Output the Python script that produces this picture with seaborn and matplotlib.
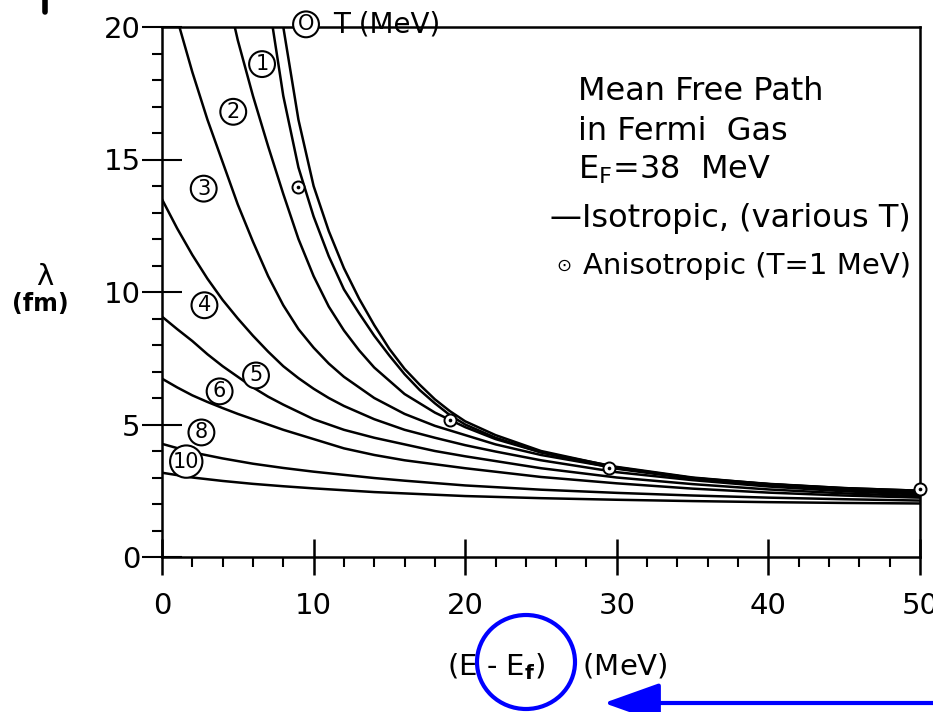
import numpy as np
import pandas as pd
import seaborn as sns
import matplotlib
matplotlib.use("Agg")
import matplotlib.pyplot as plt
from matplotlib.patches import Ellipse
from matplotlib.ticker import MultipleLocator

# ---- data: mean free path lambda (fm) vs excitation energy E - E_F (MeV) ----
temps = [0, 1, 2, 3, 4, 5, 6, 8, 10]

e_T0 = [8.0, 9, 10, 11, 12, 13, 14, 15, 16, 17, 18, 19, 20, 22, 25, 30, 35, 40, 45, 50]
lam_T0 = [20.0, 16.5, 14.0, 12.3, 10.9, 9.75, 8.75, 7.85, 7.1, 6.5, 5.95, 5.5, 5.12, 4.6, 4.0, 3.38, 2.98, 2.76, 2.6, 2.5]

e_T1 = [7.3, 8, 9, 10, 11, 12, 13, 14, 15, 16, 17, 18, 19, 20, 22, 25, 30, 35, 40, 45, 50]
lam_T1 = [20.0, 17.4, 14.7, 12.85, 11.35, 10.1, 9.2, 8.35, 7.6, 6.9, 6.3, 5.8, 5.35, 5.0, 4.5, 3.95, 3.33, 2.95, 2.75, 2.6, 2.5]

e_T2 = [4.8, 5, 6, 7, 8, 9, 10, 11, 12, 13, 14, 16, 18, 20, 22, 25, 30, 35, 40, 45, 50]
lam_T2 = [20.0, 19.5, 17.4, 15.5, 13.7, 12.0, 10.6, 9.45, 8.55, 7.8, 7.15, 6.15, 5.45, 4.9, 4.45, 3.95, 3.4, 3.0, 2.75, 2.58, 2.46]

e_T3 = [1.15, 2, 3, 4, 5, 6, 7, 8, 9, 10, 11, 12, 14, 16, 18, 20, 22, 25, 30, 35, 40, 45, 50]
lam_T3 = [20.0, 18.3, 16.5, 14.9, 13.3, 11.9, 10.6, 9.5, 8.6, 7.9, 7.3, 6.8, 6.0, 5.4, 4.95, 4.6, 4.25, 3.85, 3.35, 2.98, 2.72, 2.54, 2.42]

e_T4 = [0, 1, 2, 3, 4, 5, 6, 7, 8, 9, 10, 11, 12, 14, 16, 18, 20, 22, 25, 30, 35, 40, 45, 50]
lam_T4 = [13.5, 12.4, 11.4, 10.5, 9.7, 9.0, 8.35, 7.75, 7.2, 6.75, 6.35, 6.0, 5.7, 5.2, 4.8, 4.5, 4.22, 3.98, 3.65, 3.2, 2.9, 2.66, 2.48, 2.36]

e_T5 = [0, 1, 2, 3, 4, 5, 6, 7, 8, 10, 12, 14, 16, 18, 20, 25, 30, 35, 40, 45, 50]
lam_T5 = [9.07, 8.6, 8.15, 7.65, 7.2, 6.8, 6.4, 6.05, 5.75, 5.2, 4.8, 4.5, 4.25, 4.0, 3.8, 3.35, 3.0, 2.75, 2.55, 2.4, 2.3]

e_T6 = [0, 1, 2, 3, 4, 5, 6, 8, 10, 12, 14, 16, 18, 20, 25, 30, 35, 40, 45, 50]
lam_T6 = [6.73, 6.4, 6.1, 5.85, 5.62, 5.4, 5.2, 4.8, 4.45, 4.1, 3.85, 3.65, 3.5, 3.35, 3.02, 2.78, 2.58, 2.43, 2.32, 2.24]

e_T8 = [0, 2, 4, 6, 8, 10, 12, 14, 16, 20, 25, 30, 35, 40, 45, 50]
lam_T8 = [4.27, 3.95, 3.72, 3.52, 3.36, 3.22, 3.1, 2.98, 2.88, 2.7, 2.54, 2.42, 2.32, 2.24, 2.18, 2.13]

e_T10 = [0, 2, 4, 6, 8, 10, 12, 14, 16, 20, 25, 30, 35, 40, 45, 50]
lam_T10 = [3.18, 3.0, 2.87, 2.76, 2.67, 2.59, 2.52, 2.45, 2.4, 2.3, 2.22, 2.16, 2.11, 2.07, 2.04, 2.02]

# anisotropic calculation, T = 1 MeV
e_aniso = [9.0, 19.0, 29.5, 50.0]
lam_aniso = [13.95, 5.18, 3.35, 2.55]

# curve labels (temperature in MeV) and where they sit
label_text = ["O", "1", "2", "3", "4", "5", "6", "8", "10"]
label_e = [9.5, 6.6, 4.7, 2.75, 2.8, 6.2, 3.8, 2.6, 1.6]
label_lam = [20.1, 18.6, 16.8, 13.9, 9.5, 6.85, 6.25, 4.7, 3.6]

curves = [(e_T0, lam_T0), (e_T1, lam_T1), (e_T2, lam_T2), (e_T3, lam_T3), (e_T4, lam_T4),
          (e_T5, lam_T5), (e_T6, lam_T6), (e_T8, lam_T8), (e_T10, lam_T10)]
df = pd.concat([pd.DataFrame({"E": e, "lam": l, "T": t}) for t, (e, l) in zip(temps, curves)],
               ignore_index=True)
df_aniso = pd.DataFrame({"E": e_aniso, "lam": lam_aniso})

sns.set_style("ticks")
plt.rcParams["font.family"] = ["DejaVu Sans"]
plt.rcParams["text.color"] = "black"
plt.rcParams["xtick.color"] = "black"
plt.rcParams["ytick.color"] = "black"
plt.rcParams["xtick.labelcolor"] = "black"
plt.rcParams["ytick.labelcolor"] = "black"

W, H = 933, 712
fig = plt.figure(figsize=(W / 100, H / 100), dpi=100)
ax = fig.add_axes([162 / W, 1 - 557 / H, (920 - 162) / W, (557 - 27) / H])

sns.lineplot(data=df, x="E", y="lam", units="T", estimator=None, sort=False,
             color="black", lw=1.8, ax=ax, legend=False)
sns.scatterplot(data=df_aniso, x="E", y="lam", marker="o", s=75, facecolors="white",
                edgecolor="black", linewidth=1.4, ax=ax, zorder=5, clip_on=False, legend=False)
sns.scatterplot(data=df_aniso, x="E", y="lam", marker="o", s=7, color="black",
                linewidth=0, ax=ax, zorder=6, clip_on=False, legend=False)

ax.set_xlim(0, 50)
ax.set_ylim(0, 20)
ax.xaxis.set_major_locator(MultipleLocator(10))
ax.xaxis.set_minor_locator(MultipleLocator(2))
ax.yaxis.set_major_locator(MultipleLocator(5))
ax.yaxis.set_minor_locator(MultipleLocator(1))
ax.tick_params(axis="x", which="major", direction="inout", length=26, width=1.8,
               labelsize=21, pad=12)
ax.tick_params(axis="y", which="major", direction="inout", length=29, width=1.5,
               labelsize=21, pad=1)
ax.tick_params(which="minor", direction="out", length=7, width=1.5)
ax.set_xlabel("")
ax.set_ylabel("")
for s in ax.spines.values():
    s.set_linewidth(1.8)
    s.set_color("black")

# circled temperature labels
for txt, x, y in zip(label_text, label_e, label_lam):
    ax.text(x, y, txt, ha="center", va="center", fontsize=15, clip_on=False,
            bbox=dict(boxstyle="circle,pad=0.14", fc="white", ec="black", lw=1.5), zorder=7)
ax.text(11.3, 20.1, "T (MeV)", ha="left", va="center", fontsize=20, clip_on=False)

# description block
desc_fs = 23
fig.text(578 / W, 1 - 92 / H, "Mean Free Path", fontsize=desc_fs, va="center", ha="left")
fig.text(578 / W, 1 - 131 / H, "in Fermi  Gas", fontsize=desc_fs, va="center", ha="left")
fig.text(578 / W, 1 - 170 / H, r"E$_\mathregular{F}$=38  MeV", fontsize=desc_fs, va="center", ha="left")
fig.text(550 / W, 1 - 218 / H, "\u2014Isotropic, (various T)", fontsize=desc_fs, va="center", ha="left")
fig.text(556 / W, 1 - 266 / H, "\u2299", fontsize=13, va="center", ha="left")
fig.text(583 / W, 1 - 266 / H, "Anisotropic (T=1 MeV)", fontsize=21, va="center", ha="left")

# axis titles
fig.text(45 / W, 1 - 277 / H, "\u03bb", fontsize=21, ha="center", va="center")
fig.text(40 / W, 1 - 304 / H, "(fm)", fontsize=17, ha="center", va="center", fontweight="bold")
fig.text(447 / W, 1 - 667 / H, r"(E - E$_\mathbf{f}$)    (MeV)", fontsize=21, ha="left", va="center")

# highlight on the subtracted Fermi energy
blue = "#0000ff"
fig.patches.append(Ellipse((526, H - 662), 98, 94, transform=None, fill=False, ec=blue, lw=3))
ax.annotate("", xy=(604, H - 703), xytext=(933, H - 703), xycoords="figure pixels",
            textcoords="figure pixels",
            arrowprops=dict(arrowstyle="-|>,head_length=1.4,head_width=0.5", color=blue,
                            lw=3, mutation_scale=25, shrinkA=0, shrinkB=0))

# small mark at the top-left margin
fig.add_artist(plt.Line2D([45 / W, 45 / W], [1.0, 1 - 12 / H], color="black", lw=4))

fig.savefig("out.png", dpi=100)
